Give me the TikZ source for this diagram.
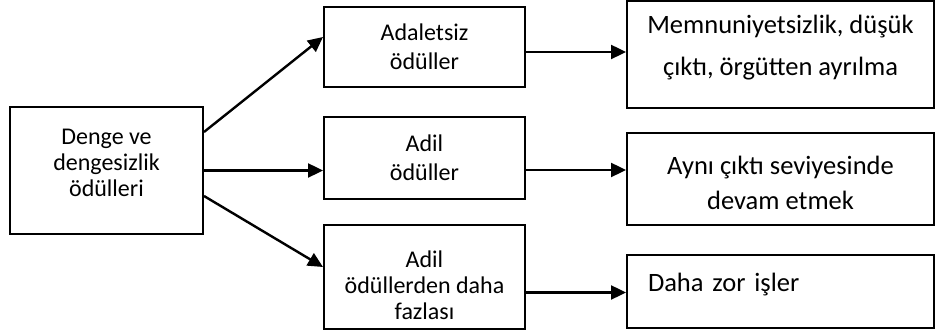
\documentclass[tikz,border=0pt]{standalone}
\usepackage{fontspec}
\setmainfont{Carlito}
\usetikzlibrary{arrows.meta,positioning}

\begin{document}
\begin{tikzpicture}[x=1pt,y=-1pt,->,>={Triangle[length=15pt,width=14pt]},line width=2.4pt]
	\tikzstyle{kutu}=[draw=black,line width=2pt,align=center,inner sep=0pt]
	\tikzstyle{orta}=[kutu,minimum width=201pt]
	\tikzstyle{sag}=[kutu,minimum width=307pt]
	\useasboundingbox (0,0) rectangle (935,336);
	% sol sutun
	\node[kutu,minimum width=193pt,minimum height=127pt,text height=66pt,text depth=14pt,font=\fontsize{24}{26}\selectfont] (denge) at (106.5,170.5) {Denge ve\\dengesizlik\\ödülleri};
	% orta sutun
	\node[orta,minimum height=80pt,font=\fontsize{24}{29}\selectfont]    (adaletsiz) at (424.5,47)  {Adaletsiz\\ödüller};
	\node[orta,minimum height=82pt,font=\fontsize{24}{29}\selectfont]    (adil)[below of=adaletsiz, node distance=111pt]  {Adil\\ödüller};
	\node[orta,minimum height=104pt,text height=90pt,text depth=5pt,font=\fontsize{24}{26}\selectfont]   (fazla)[below of=adil, node distance=119pt]      {Adil\\ödüllerden daha\\fazlası};
	% sag sutun
	\node[sag,minimum height=107pt,text height=60pt,text depth=17pt,font=\fontsize{26.5}{42}\selectfont]    (memnun) at (780.5,54.5)  {Memnuniyetsizlik, düşük\\çıktı, örgütten ayrılma};
	\node[sag,minimum height=92pt,text height=74pt,text depth=12pt,font=\fontsize{26.5}{35}\selectfont]     (ayni)[below of=memnun, node distance=124.5pt] {Aynı çıktı seviyesinde\\devam etmek};
	\node[sag,minimum height=73pt,align=left,text width=265pt,inner xsep=21pt,text height=19pt,text depth=18.5pt,font=\fontsize{26.5}{32}\selectfont] (zor)[below of=ayni, node distance=112.5pt] {Daha zor işler};
	\path
	([yshift=38.5pt]denge.east) edge ([yshift=10pt]adaletsiz.west)
	(denge.east) edge (denge.east -| adil.west)
	([yshift=-25.5pt]denge.east) edge ([yshift=10pt]fazla.west)
	([yshift=-5pt]adaletsiz.east) edge ([yshift=-5pt]adaletsiz.east -| memnun.west)
	([yshift=-12pt]adil.east) edge ([yshift=-12pt]adil.east -| ayni.west)
	([yshift=-15.5pt]fazla.east) edge ([yshift=-15.5pt]fazla.east -| zor.west);
\end{tikzpicture}
\end{document}
